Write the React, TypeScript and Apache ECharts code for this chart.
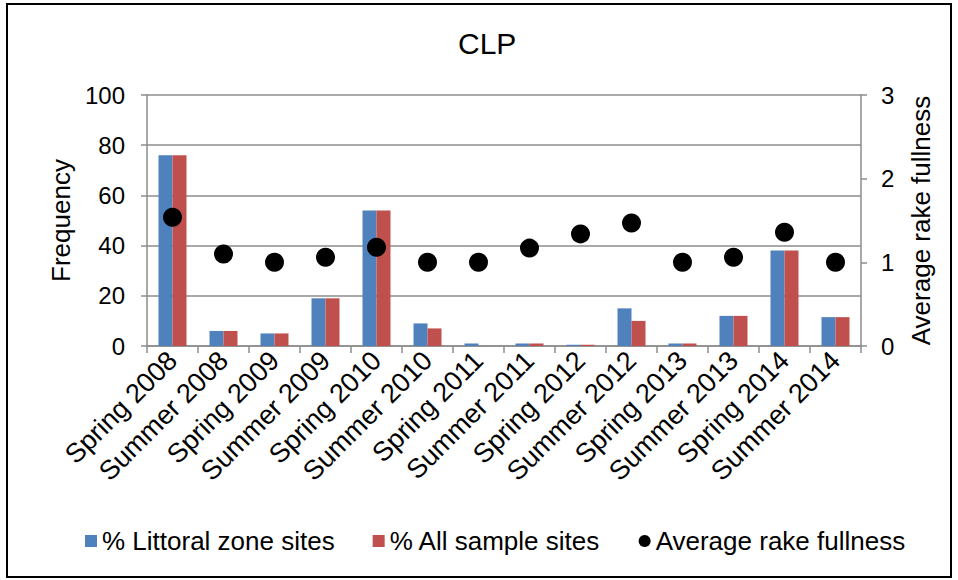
import React, { useEffect, useRef } from "react";
import * as echarts from "echarts";

const categories = [
  "Spring 2008", "Summer 2008", "Spring 2009", "Summer 2009", "Spring 2010",
  "Summer 2010", "Spring 2011", "Summer 2011", "Spring 2012", "Summer 2012",
  "Spring 2013", "Summer 2013", "Spring 2014", "Summer 2014",
];
const littoralPct = [76, 6, 5, 19, 54, 9, 1, 1, 0.5, 15, 1, 12, 38, 11.5];
const allSitesPct = [76, 6, 5, 19, 54, 7, 0, 1, 0.5, 10, 1, 12, 38, 11.5];
const rakeFullness = [1.54, 1.1, 1.0, 1.06, 1.18, 1.0, 1.0, 1.17, 1.34, 1.47, 1.0, 1.06, 1.36, 1.0];

const FONT = "'Liberation Sans', Arial, sans-serif";
const GRID_GRAY = "#8c8c8c";

export default function App() {
  const ref = useRef<HTMLDivElement>(null);
  useEffect(() => {
    if (!ref.current) return;
    const chart = echarts.init(ref.current, undefined, { renderer: "svg" });
    chart.setOption({
      animation: false,
      backgroundColor: "#fff",
      textStyle: { fontFamily: FONT, color: "#000" },
      title: {
        text: "CLP",
        left: 458,
        top: 28,
        padding: 0,
        textStyle: { fontFamily: FONT, fontSize: 30, fontWeight: "normal", color: "#000" },
      },
      graphic: [
        {
          type: "rect",
          shape: { x: 7, y: 4, width: 944, height: 573 },
          style: { fill: "none", stroke: "#000", lineWidth: 2 },
          silent: true,
        },
      ],
      legend: {
        left: 80,
        top: 523,
        itemWidth: 12,
        itemHeight: 12,
        itemGap: 38,
        textStyle: { fontFamily: FONT, fontSize: 26, color: "#000" },
        data: [
          { name: "% Littoral zone sites", icon: "rect" },
          { name: "% All sample sites", icon: "rect" },
          { name: "Average rake fullness", icon: "circle", itemStyle: { opacity: 1, color: "#000" } },
        ],
      },
      grid: { left: 147, right: 97, top: 95, bottom: 234, containLabel: false },
      xAxis: {
        type: "category",
        data: categories,
        axisLine: { lineStyle: { color: GRID_GRAY, width: 1.5 } },
        axisTick: { show: true, alignWithLabel: false, length: 7, lineStyle: { color: GRID_GRAY, width: 1.5 } },
        axisLabel: {
          rotate: 45,
          interval: 0,
          margin: 10,
          fontFamily: FONT,
          fontSize: 27,
          color: "#000",
        },
      },
      yAxis: [
        {
          type: "value",
          min: 0,
          max: 100,
          interval: 20,
          name: "Frequency",
          nameLocation: "middle",
          nameRotate: 90,
          nameGap: 72,
          nameTextStyle: { fontFamily: FONT, fontSize: 26, color: "#000" },
          axisLine: { show: true, lineStyle: { color: GRID_GRAY, width: 1.5 } },
          axisTick: { show: true, length: 6, lineStyle: { color: GRID_GRAY, width: 1.5 } },
          axisLabel: { margin: 22, fontFamily: FONT, fontSize: 24, color: "#000" },
          splitLine: { show: true, lineStyle: { color: GRID_GRAY, width: 1.5 } },
        },
        {
          type: "value",
          min: 0,
          max: 3,
          interval: 1,
          position: "right",
          name: "Average rake fullness",
          nameLocation: "middle",
          nameRotate: 90,
          nameGap: 47,
          nameTextStyle: { fontFamily: FONT, fontSize: 26, color: "#000" },
          axisLine: { show: true, lineStyle: { color: GRID_GRAY, width: 1.5 } },
          axisTick: { show: true, length: 6, lineStyle: { color: GRID_GRAY, width: 1.5 } },
          axisLabel: { margin: 20, fontFamily: FONT, fontSize: 24, color: "#000" },
          splitLine: { show: false },
        },
      ],
      series: [
        {
          name: "% Littoral zone sites",
          type: "bar",
          data: littoralPct,
          barWidth: 14,
          barGap: "0%",
          itemStyle: { color: "#4F81BD" },
        },
        {
          name: "% All sample sites",
          type: "bar",
          data: allSitesPct,
          barWidth: 14,
          barGap: "0%",
          itemStyle: { color: "#C0504D" },
        },
        {
          name: "Average rake fullness",
          type: "scatter",
          yAxisIndex: 1,
          data: rakeFullness,
          symbol: "circle",
          symbolSize: 19,
          itemStyle: { color: "#000", opacity: 1 },
          z: 5,
        },
      ],
    });
    return () => chart.dispose();
  }, []);
  return (
    <div
      ref={ref}
      style={{ position: "fixed", left: 0, top: 0, width: 958, height: 580 }}
    />
  );
}
